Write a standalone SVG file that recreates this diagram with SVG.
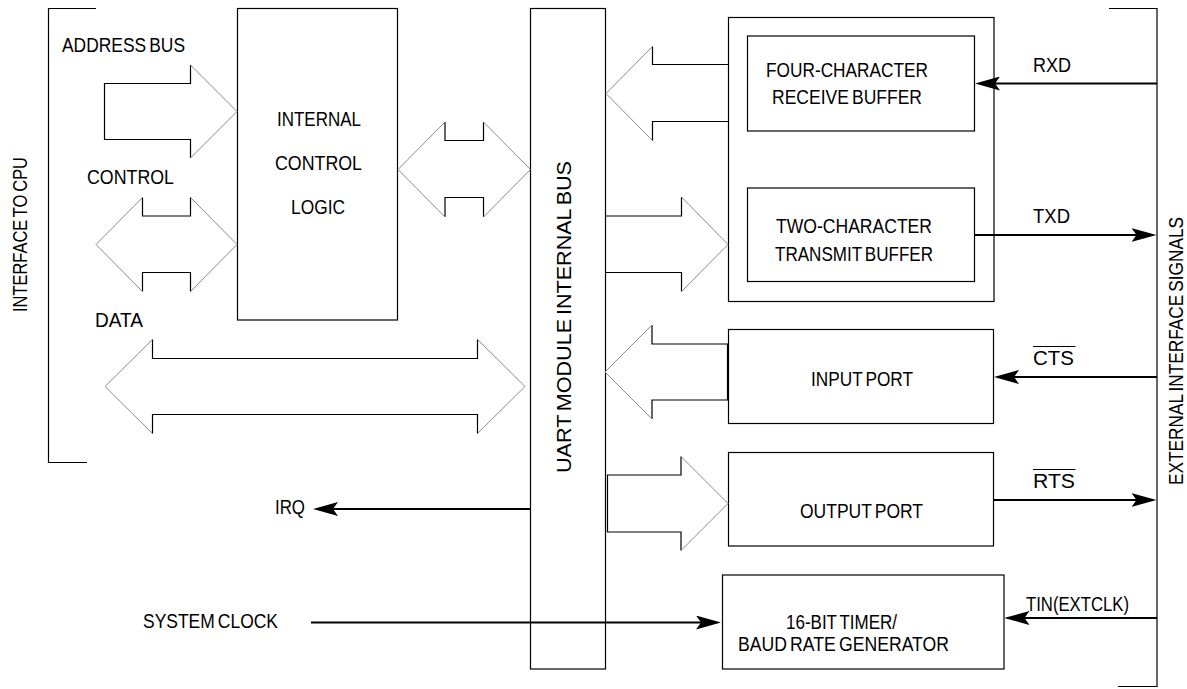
<svg xmlns="http://www.w3.org/2000/svg" width="1187" height="689" viewBox="0 0 1187 689">
<style>
  text { font-family: "Liberation Sans", Arial, sans-serif; font-size: 20px; fill: #000; word-spacing: -2px; }
  text.n { word-spacing: 0; }
  .box { fill: none; stroke: #000; stroke-width: 1.2; }
  .body { fill: none; stroke: #000; stroke-width: 1.2; }
  .head { fill: none; stroke: #8a8a8a; stroke-width: 1; }
  .sig { fill: none; stroke: #000; stroke-width: 2.2; }
</style>
<defs>
  <marker id="ah" viewBox="0 0 25 14" refX="15" refY="7" markerWidth="25" markerHeight="14" markerUnits="userSpaceOnUse" orient="auto">
    <path d="M0,0 L25,7 L0,14 L5,7 Z" fill="#000"/>
  </marker>
</defs>

<g id="cpu-interface">
  <path class="box" d="M96,8.5 H48.5 V462.5 H87"/>
  <text transform="translate(27,312) rotate(-90)" textLength="155" lengthAdjust="spacingAndGlyphs">INTERFACE TO CPU</text>
</g>

<g id="ext-interface">
  <path class="box" d="M1109,8.5 H1157 V686.5 H1118"/>
  <text transform="translate(1183,485) rotate(-90)" textLength="268" lengthAdjust="spacingAndGlyphs">EXTERNAL INTERFACE SIGNALS</text>
</g>

<g id="control-logic">
  <rect class="box" x="237.5" y="8.5" width="160" height="311.5"/>
  <text x="277" y="126" textLength="84" lengthAdjust="spacingAndGlyphs">INTERNAL</text>
  <text x="275" y="170" textLength="87" lengthAdjust="spacingAndGlyphs">CONTROL</text>
  <text x="291" y="214" textLength="54" lengthAdjust="spacingAndGlyphs">LOGIC</text>
</g>

<g id="uart-bus">
  <rect class="box" x="530.5" y="8.5" width="75" height="660.5"/>
  <text transform="translate(571,473) rotate(-90)" textLength="312" lengthAdjust="spacingAndGlyphs">UART MODULE INTERNAL BUS</text>
</g>

<g id="buffers">
  <rect class="box" x="728.5" y="17.5" width="265.5" height="284"/>
</g>

<g id="receive-buffer">
  <rect class="box" x="747.5" y="36" width="227" height="95"/>
  <text x="766" y="77" textLength="162" lengthAdjust="spacingAndGlyphs">FOUR-CHARACTER</text>
  <text x="772" y="104" textLength="150" lengthAdjust="spacingAndGlyphs">RECEIVE BUFFER</text>
</g>

<g id="transmit-buffer">
  <rect class="box" x="747.5" y="188" width="227" height="93.5"/>
  <text x="776" y="233" textLength="156" lengthAdjust="spacingAndGlyphs">TWO-CHARACTER</text>
  <text x="775" y="261" textLength="158" lengthAdjust="spacingAndGlyphs">TRANSMIT BUFFER</text>
</g>

<g id="input-port">
  <rect class="box" x="728.5" y="329.5" width="265" height="94"/>
  <text x="811" y="386" textLength="102" lengthAdjust="spacingAndGlyphs">INPUT PORT</text>
</g>

<g id="output-port">
  <rect class="box" x="728.5" y="452.5" width="265" height="93.5"/>
  <text x="800" y="518" textLength="123" lengthAdjust="spacingAndGlyphs">OUTPUT PORT</text>
</g>

<g id="timer">
  <rect class="box" x="722.5" y="575" width="281.5" height="94"/>
  <text x="786" y="629" textLength="111" lengthAdjust="spacingAndGlyphs">16-BIT TIMER/</text>
  <text x="738" y="651" textLength="211" lengthAdjust="spacingAndGlyphs">BAUD RATE GENERATOR</text>
</g>

<g id="labels">
  <text x="62" y="52" textLength="123" lengthAdjust="spacingAndGlyphs">ADDRESS BUS</text>
  <text x="87" y="184" textLength="87" lengthAdjust="spacingAndGlyphs">CONTROL</text>
  <text x="95" y="327" textLength="48" lengthAdjust="spacingAndGlyphs">DATA</text>
  <text x="275" y="514" textLength="30" lengthAdjust="spacingAndGlyphs">IRQ</text>
  <text x="143" y="628" textLength="135" lengthAdjust="spacingAndGlyphs">SYSTEM CLOCK</text>
  <text x="1033" y="72" textLength="38" lengthAdjust="spacingAndGlyphs">RXD</text>
  <text x="1033" y="223" textLength="37" lengthAdjust="spacingAndGlyphs">TXD</text>
  <text class="n" x="1033" y="365" textLength="41" lengthAdjust="spacingAndGlyphs">CTS</text>
  <line x1="1033" y1="346.5" x2="1075.5" y2="346.5" stroke="#000" stroke-width="1.2"/>
  <text class="n" x="1033" y="488" textLength="42" lengthAdjust="spacingAndGlyphs">RTS</text>
  <line x1="1033" y1="469.5" x2="1075.5" y2="469.5" stroke="#000" stroke-width="1.2"/>
  <text x="1026" y="611" textLength="103" lengthAdjust="spacingAndGlyphs">TIN(EXTCLK)</text>
</g>

<g id="connectors">
  <!-- address bus block arrow -->
  <path class="body" d="M190.5,65 V83.5 H104.5 V139.5 H190.5 V158"/>
  <path class="head" d="M190.5,65 L237,111.5 L190.5,158"/>
  <!-- control double arrow -->
  <path class="body" d="M142.5,197.5 V216 H190.5 V197.5 M142.5,291.5 V272.5 H190.5 V291.5"/>
  <path class="head" d="M142.5,197.5 L96,244.5 L142.5,291.5 M190.5,197.5 L237,244.5 L190.5,291.5"/>
  <!-- logic to bus double arrow -->
  <path class="body" d="M445,122 V140.5 H483.5 V122 M445,217 V197.5 H483.5 V217"/>
  <path class="head" d="M445,122 L398,169.5 L445,217 M483.5,122 L530.5,169.5 L483.5,217"/>
  <!-- data double arrow -->
  <path class="body" d="M152.5,339.5 V358.5 H477.5 V339.5 M152.5,433.5 V414.5 H477.5 V433.5"/>
  <path class="head" d="M152.5,339.5 L105,386.5 L152.5,433.5 M477.5,339.5 L525,386.5 L477.5,433.5"/>
  <!-- receive block arrow -->
  <path class="body" d="M652.5,46.5 V64.5 H728 M652.5,140.5 V121.5 H728"/>
  <path class="head" d="M652.5,46.5 L606,93.5 L652.5,140.5"/>
  <!-- transmit block arrow -->
  <path class="body" d="M606,216 H681.5 V197 M606,272.5 H681.5 V291.5"/>
  <path class="head" d="M681.5,197 L728,244.5 L681.5,291.5"/>
  <!-- input port block arrow -->
  <path class="body" d="M652,325 V344 H727.5 V400 H652 V419"/>
  <path class="head" d="M652,325 L605,372 L652,419"/>
  <!-- output port block arrow -->
  <path class="body" d="M681,456.5 V475 H607.5 V532 H681 V550.5"/>
  <path class="head" d="M681,456.5 L728,503.5 L681,550.5"/>
  <!-- signal lines -->
  <line class="sig" x1="1157" y1="83.5" x2="985" y2="83.5" marker-end="url(#ah)"/>
  <line class="sig" x1="974.5" y1="235" x2="1146.5" y2="235" marker-end="url(#ah)"/>
  <line class="sig" x1="1157" y1="377" x2="1004" y2="377" marker-end="url(#ah)"/>
  <line class="sig" x1="994" y1="500" x2="1146.5" y2="500" marker-end="url(#ah)"/>
  <line class="sig" x1="1157" y1="618" x2="1014.5" y2="618" marker-end="url(#ah)"/>
  <line class="sig" x1="311" y1="622.5" x2="711" y2="622.5" marker-end="url(#ah)"/>
  <line class="sig" x1="530.5" y1="509" x2="323" y2="509" marker-end="url(#ah)"/>
</g>
</svg>
